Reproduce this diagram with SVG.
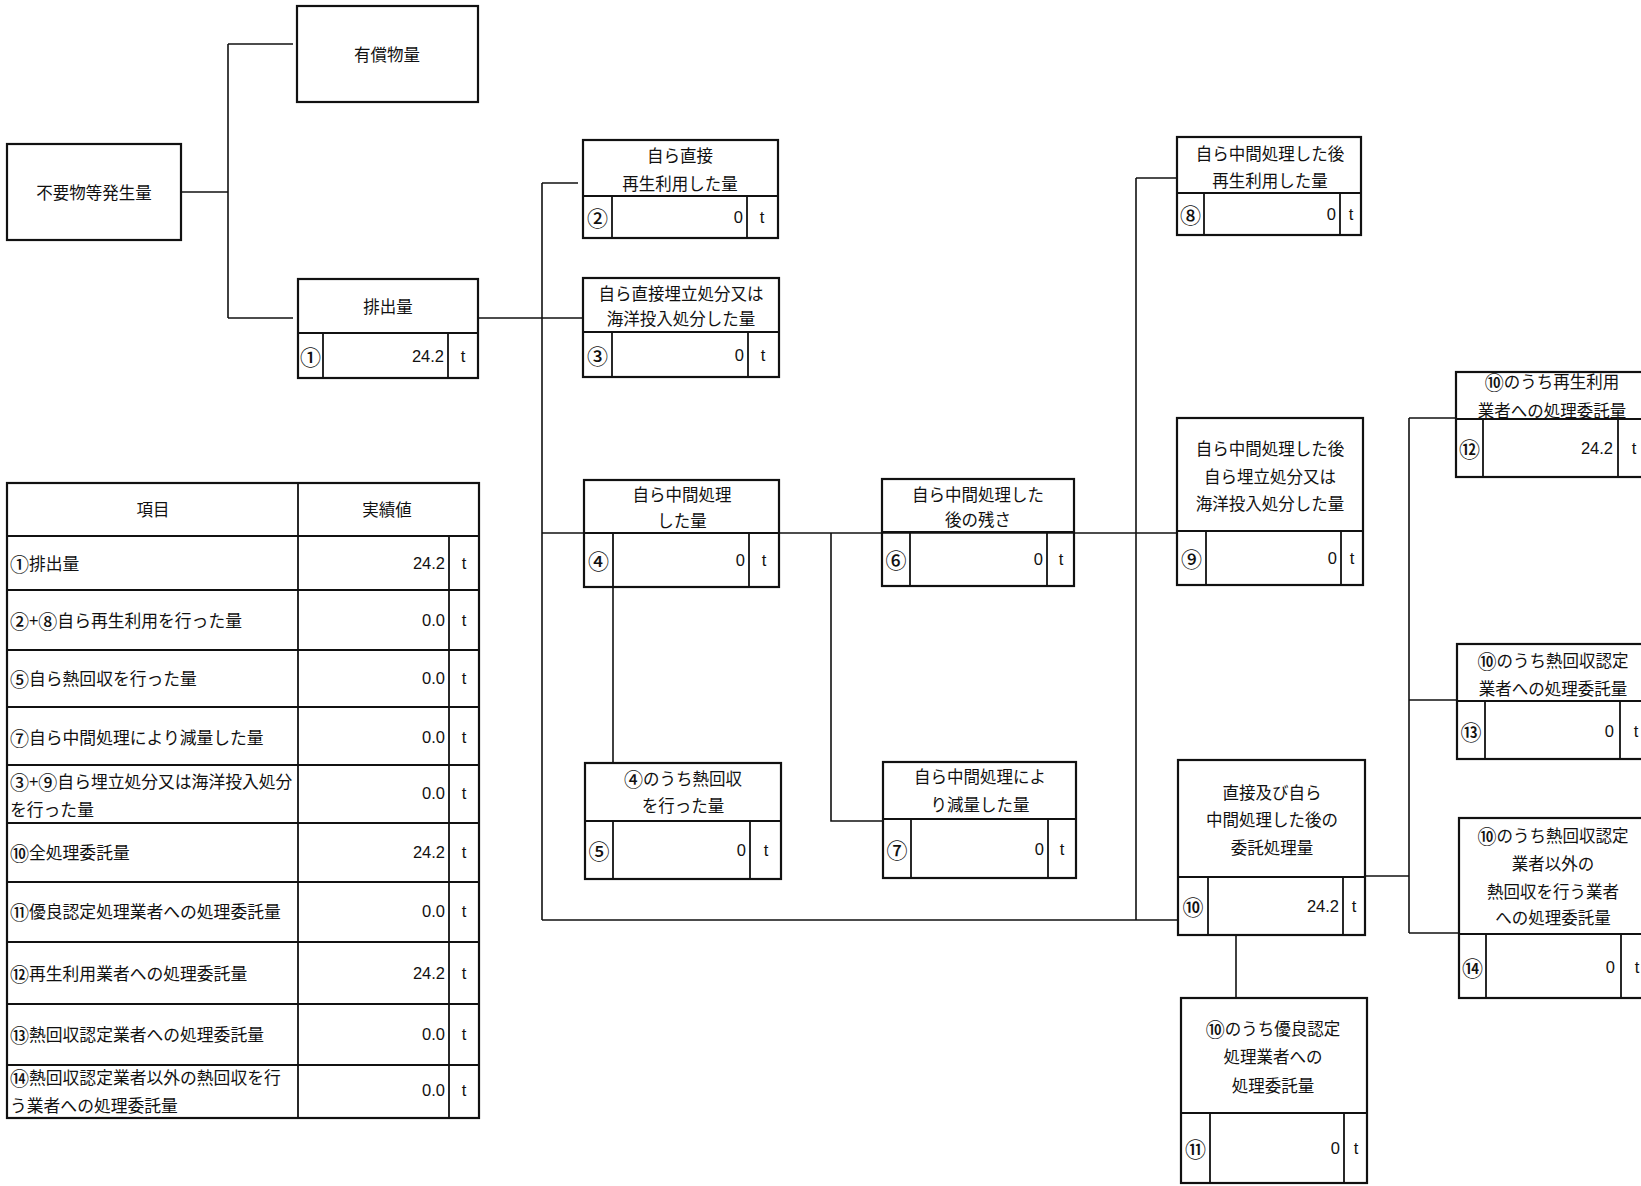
<svg xmlns="http://www.w3.org/2000/svg" width="1641" height="1186" viewBox="0 0 1641 1186">
<style>
  .box rect { fill: none; stroke: #111; stroke-width: 2.2; }
  .box line { stroke: #111; stroke-width: 1.8; }
  .conn line, .conn polyline { fill: none; stroke: #111; stroke-width: 1.6; }
  text { font-family: "Noto Sans CJK JP", "Noto Sans", sans-serif; fill: #111; dominant-baseline: central; }
  .lbl { font-size: 16.5px; text-anchor: middle; }
  .num { font-size: 21px; text-anchor: middle; font-weight: 500; }
  .c { font-size: 19px; font-weight: 500; }
  .val { font-family: "Liberation Sans", Arial, sans-serif; font-size: 16.5px; text-anchor: end; }
  .unit { font-family: "Liberation Sans", Arial, sans-serif; font-size: 16.5px; text-anchor: middle; }
  .tl { font-size: 16.8px; text-anchor: start; }
  .th { font-size: 16.5px; text-anchor: middle; }
</style>
<rect x="0" y="0" width="1641" height="1186" fill="#ffffff"/>

<g id="connectors" class="conn">
  <line x1="181" y1="192" x2="228" y2="192"/>
  <line x1="228" y1="44" x2="228" y2="318"/>
  <line x1="228" y1="44" x2="293" y2="44"/>
  <line x1="228" y1="318" x2="293" y2="318"/>
  <line x1="478" y1="318" x2="583" y2="318"/>
  <line x1="542" y1="183" x2="542" y2="920"/>
  <line x1="542" y1="183" x2="578" y2="183"/>
  <line x1="542" y1="533" x2="1177" y2="533"/>
  <line x1="542" y1="920" x2="1178" y2="920"/>
  <line x1="613" y1="587" x2="613" y2="763"/>
  <polyline points="831,533 831,821 883,821"/>
  <line x1="1136" y1="178" x2="1136" y2="920"/>
  <line x1="1136" y1="178" x2="1177" y2="178"/>
  <line x1="1236" y1="935" x2="1236" y2="998"/>
  <line x1="1365" y1="876" x2="1409" y2="876"/>
  <line x1="1409" y1="418" x2="1409" y2="933"/>
  <line x1="1409" y1="418" x2="1456" y2="418"/>
  <line x1="1409" y1="700" x2="1457" y2="700"/>
  <line x1="1409" y1="933" x2="1459" y2="933"/>
</g>

<g id="n-generated" class="box">
  <rect x="7" y="144" width="174" height="96"/>
  <text class="lbl" x="94" y="192">不要物等発生量</text>
</g>

<g id="n-valuable" class="box">
  <rect x="297" y="6" width="181" height="96"/>
  <text class="lbl" x="387" y="54">有償物量</text>
</g>

<g id="n1" class="box">
  <rect x="298" y="279" width="180" height="99"/>
  <line x1="298" y1="333" x2="478" y2="333"/>
  <line x1="323" y1="333" x2="323" y2="378"/>
  <line x1="448" y1="333" x2="448" y2="378"/>
  <text class="lbl" x="388" y="306">排出量</text>
  <text class="num" x="310.5" y="356">①</text>
  <text class="val" x="444" y="356">24.2</text>
  <text class="unit" x="463" y="356">t</text>
</g>

<g id="n2" class="box">
  <rect x="583" y="140" width="195" height="98"/>
  <line x1="583" y1="196" x2="778" y2="196"/>
  <line x1="612" y1="196" x2="612" y2="238"/>
  <line x1="747" y1="196" x2="747" y2="238"/>
  <text class="lbl" x="680" y="155">自ら直接</text>
  <text class="lbl" x="680" y="183">再生利用した量</text>
  <text class="num" x="597.5" y="217">②</text>
  <text class="val" x="743" y="217">0</text>
  <text class="unit" x="762" y="217">t</text>
</g>

<g id="n3" class="box">
  <rect x="583" y="278" width="196" height="99"/>
  <line x1="583" y1="332" x2="779" y2="332"/>
  <line x1="612" y1="332" x2="612" y2="377"/>
  <line x1="748" y1="332" x2="748" y2="377"/>
  <text class="lbl" x="681" y="293">自ら直接埋立処分又は</text>
  <text class="lbl" x="681" y="318">海洋投入処分した量</text>
  <text class="num" x="597.5" y="355">③</text>
  <text class="val" x="744" y="355">0</text>
  <text class="unit" x="763" y="355">t</text>
</g>

<g id="n4" class="box">
  <rect x="584" y="480" width="195" height="107"/>
  <line x1="584" y1="533" x2="779" y2="533"/>
  <line x1="613" y1="533" x2="613" y2="587"/>
  <line x1="749" y1="533" x2="749" y2="587"/>
  <text class="lbl" x="682" y="494">自ら中間処理</text>
  <text class="lbl" x="682" y="520">した量</text>
  <text class="num" x="598.5" y="560">④</text>
  <text class="val" x="745" y="560">0</text>
  <text class="unit" x="764" y="560">t</text>
</g>

<g id="n5" class="box">
  <rect x="585" y="763" width="196" height="116"/>
  <line x1="585" y1="821" x2="781" y2="821"/>
  <line x1="613" y1="821" x2="613" y2="879"/>
  <line x1="750" y1="821" x2="750" y2="879"/>
  <text class="lbl" x="683" y="778"><tspan class="c">④</tspan>のうち熱回収</text>
  <text class="lbl" x="683" y="805">を行った量</text>
  <text class="num" x="599" y="850">⑤</text>
  <text class="val" x="746" y="850">0</text>
  <text class="unit" x="766" y="850">t</text>
</g>

<g id="n6" class="box">
  <rect x="882" y="479" width="192" height="107"/>
  <line x1="882" y1="532" x2="1074" y2="532"/>
  <line x1="910" y1="532" x2="910" y2="586"/>
  <line x1="1047" y1="532" x2="1047" y2="586"/>
  <text class="lbl" x="978" y="494">自ら中間処理した</text>
  <text class="lbl" x="978" y="519">後の残さ</text>
  <text class="num" x="896" y="559">⑥</text>
  <text class="val" x="1043" y="559">0</text>
  <text class="unit" x="1061" y="559">t</text>
</g>

<g id="n7" class="box">
  <rect x="883" y="762" width="193" height="116"/>
  <line x1="883" y1="819" x2="1076" y2="819"/>
  <line x1="911" y1="819" x2="911" y2="878"/>
  <line x1="1048" y1="819" x2="1048" y2="878"/>
  <text class="lbl" x="980" y="776">自ら中間処理によ</text>
  <text class="lbl" x="980" y="804">り減量した量</text>
  <text class="num" x="897" y="849">⑦</text>
  <text class="val" x="1044" y="849">0</text>
  <text class="unit" x="1062" y="849">t</text>
</g>

<g id="n8" class="box">
  <rect x="1177" y="137" width="184" height="98"/>
  <line x1="1177" y1="193" x2="1361" y2="193"/>
  <line x1="1204" y1="193" x2="1204" y2="235"/>
  <line x1="1340" y1="193" x2="1340" y2="235"/>
  <text class="lbl" x="1270" y="153">自ら中間処理した後</text>
  <text class="lbl" x="1270" y="180">再生利用した量</text>
  <text class="num" x="1190.5" y="214">⑧</text>
  <text class="val" x="1336" y="214">0</text>
  <text class="unit" x="1351" y="214">t</text>
</g>

<g id="n9" class="box">
  <rect x="1177" y="418" width="186" height="167"/>
  <line x1="1177" y1="531" x2="1363" y2="531"/>
  <line x1="1206" y1="531" x2="1206" y2="585"/>
  <line x1="1341" y1="531" x2="1341" y2="585"/>
  <text class="lbl" x="1270" y="448">自ら中間処理した後</text>
  <text class="lbl" x="1270" y="476">自ら埋立処分又は</text>
  <text class="lbl" x="1270" y="503">海洋投入処分した量</text>
  <text class="num" x="1191.5" y="558">⑨</text>
  <text class="val" x="1337" y="558">0</text>
  <text class="unit" x="1352" y="558">t</text>
</g>

<g id="n10" class="box">
  <rect x="1178" y="760" width="187" height="175"/>
  <line x1="1178" y1="877" x2="1365" y2="877"/>
  <line x1="1208" y1="877" x2="1208" y2="935"/>
  <line x1="1343" y1="877" x2="1343" y2="935"/>
  <text class="lbl" x="1272" y="792">直接及び自ら</text>
  <text class="lbl" x="1272" y="819">中間処理した後の</text>
  <text class="lbl" x="1272" y="847">委託処理量</text>
  <text class="num" x="1193" y="906">⑩</text>
  <text class="val" x="1339" y="906">24.2</text>
  <text class="unit" x="1354" y="906">t</text>
</g>

<g id="n11" class="box">
  <rect x="1181" y="998" width="186" height="185"/>
  <line x1="1181" y1="1113" x2="1367" y2="1113"/>
  <line x1="1210" y1="1113" x2="1210" y2="1183"/>
  <line x1="1344" y1="1113" x2="1344" y2="1183"/>
  <text class="lbl" x="1273" y="1028"><tspan class="c">⑩</tspan>のうち優良認定</text>
  <text class="lbl" x="1273" y="1056">処理業者への</text>
  <text class="lbl" x="1273" y="1085">処理委託量</text>
  <text class="num" x="1195.5" y="1148">⑪</text>
  <text class="val" x="1340" y="1148">0</text>
  <text class="unit" x="1356" y="1148">t</text>
</g>

<g id="n12" class="box">
  <rect x="1456" y="372" width="204" height="105"/>
  <line x1="1456" y1="419" x2="1660" y2="419"/>
  <line x1="1483" y1="419" x2="1483" y2="477"/>
  <line x1="1618" y1="419" x2="1618" y2="477"/>
  <text class="lbl" x="1552" y="381"><tspan class="c">⑩</tspan>のうち再生利用</text>
  <text class="lbl" x="1552" y="410">業者への処理委託量</text>
  <text class="num" x="1469.5" y="448">⑫</text>
  <text class="val" x="1613" y="448">24.2</text>
  <text class="unit" x="1634" y="448">t</text>
</g>

<g id="n13" class="box">
  <rect x="1457" y="644" width="203" height="115"/>
  <line x1="1457" y1="701" x2="1660" y2="701"/>
  <line x1="1485" y1="701" x2="1485" y2="759"/>
  <line x1="1620" y1="701" x2="1620" y2="759"/>
  <text class="lbl" x="1553" y="660"><tspan class="c">⑩</tspan>のうち熱回収認定</text>
  <text class="lbl" x="1553" y="688">業者への処理委託量</text>
  <text class="num" x="1471" y="731">⑬</text>
  <text class="val" x="1614" y="731">0</text>
  <text class="unit" x="1636" y="731">t</text>
</g>

<g id="n14" class="box">
  <rect x="1459" y="818" width="201" height="180"/>
  <line x1="1459" y1="934" x2="1660" y2="934"/>
  <line x1="1486" y1="934" x2="1486" y2="998"/>
  <line x1="1621" y1="934" x2="1621" y2="998"/>
  <text class="lbl" x="1553" y="835"><tspan class="c">⑩</tspan>のうち熱回収認定</text>
  <text class="lbl" x="1553" y="863">業者以外の</text>
  <text class="lbl" x="1553" y="891">熱回収を行う業者</text>
  <text class="lbl" x="1553" y="917">への処理委託量</text>
  <text class="num" x="1472.5" y="967">⑭</text>
  <text class="val" x="1615" y="967">0</text>
  <text class="unit" x="1637" y="967">t</text>
</g>

<g id="summary-table" class="box">
  <rect x="7" y="483" width="472" height="635"/>
  <line x1="7" y1="536" x2="479" y2="536"/>
  <line x1="7" y1="590" x2="479" y2="590"/>
  <line x1="7" y1="650" x2="479" y2="650"/>
  <line x1="7" y1="707" x2="479" y2="707"/>
  <line x1="7" y1="765" x2="479" y2="765"/>
  <line x1="7" y1="823" x2="479" y2="823"/>
  <line x1="7" y1="882" x2="479" y2="882"/>
  <line x1="7" y1="942" x2="479" y2="942"/>
  <line x1="7" y1="1004" x2="479" y2="1004"/>
  <line x1="7" y1="1065" x2="479" y2="1065"/>
  <line x1="298" y1="483" x2="298" y2="1118"/>
  <line x1="449" y1="536" x2="449" y2="1118"/>
  <text class="th" x="153" y="509">項目</text>
  <text class="th" x="387" y="509">実績値</text>

  <text class="tl" x="10" y="563"><tspan class="c">①</tspan>排出量</text>
  <text class="val" x="445" y="563">24.2</text>
  <text class="unit" x="464" y="563">t</text>

  <text class="tl" x="10" y="620"><tspan class="c">②</tspan>+<tspan class="c">⑧</tspan>自ら再生利用を行った量</text>
  <text class="val" x="445" y="620">0.0</text>
  <text class="unit" x="464" y="620">t</text>

  <text class="tl" x="10" y="678"><tspan class="c">⑤</tspan>自ら熱回収を行った量</text>
  <text class="val" x="445" y="678">0.0</text>
  <text class="unit" x="464" y="678">t</text>

  <text class="tl" x="10" y="737"><tspan class="c">⑦</tspan>自ら中間処理により減量した量</text>
  <text class="val" x="445" y="737">0.0</text>
  <text class="unit" x="464" y="737">t</text>

  <text class="tl" x="10" y="781"><tspan class="c">③</tspan>+<tspan class="c">⑨</tspan>自ら埋立処分又は海洋投入処分</text>
  <text class="tl" x="10" y="809">を行った量</text>
  <text class="val" x="445" y="793">0.0</text>
  <text class="unit" x="464" y="793">t</text>

  <text class="tl" x="10" y="852"><tspan class="c">⑩</tspan>全処理委託量</text>
  <text class="val" x="445" y="852">24.2</text>
  <text class="unit" x="464" y="852">t</text>

  <text class="tl" x="10" y="911"><tspan class="c">⑪</tspan>優良認定処理業者への処理委託量</text>
  <text class="val" x="445" y="911">0.0</text>
  <text class="unit" x="464" y="911">t</text>

  <text class="tl" x="10" y="973"><tspan class="c">⑫</tspan>再生利用業者への処理委託量</text>
  <text class="val" x="445" y="973">24.2</text>
  <text class="unit" x="464" y="973">t</text>

  <text class="tl" x="10" y="1034"><tspan class="c">⑬</tspan>熱回収認定業者への処理委託量</text>
  <text class="val" x="445" y="1034">0.0</text>
  <text class="unit" x="464" y="1034">t</text>

  <text class="tl" x="10" y="1077"><tspan class="c">⑭</tspan>熱回収認定業者以外の熱回収を行</text>
  <text class="tl" x="10" y="1105">う業者への処理委託量</text>
  <text class="val" x="445" y="1090">0.0</text>
  <text class="unit" x="464" y="1090">t</text>
</g>
</svg>
